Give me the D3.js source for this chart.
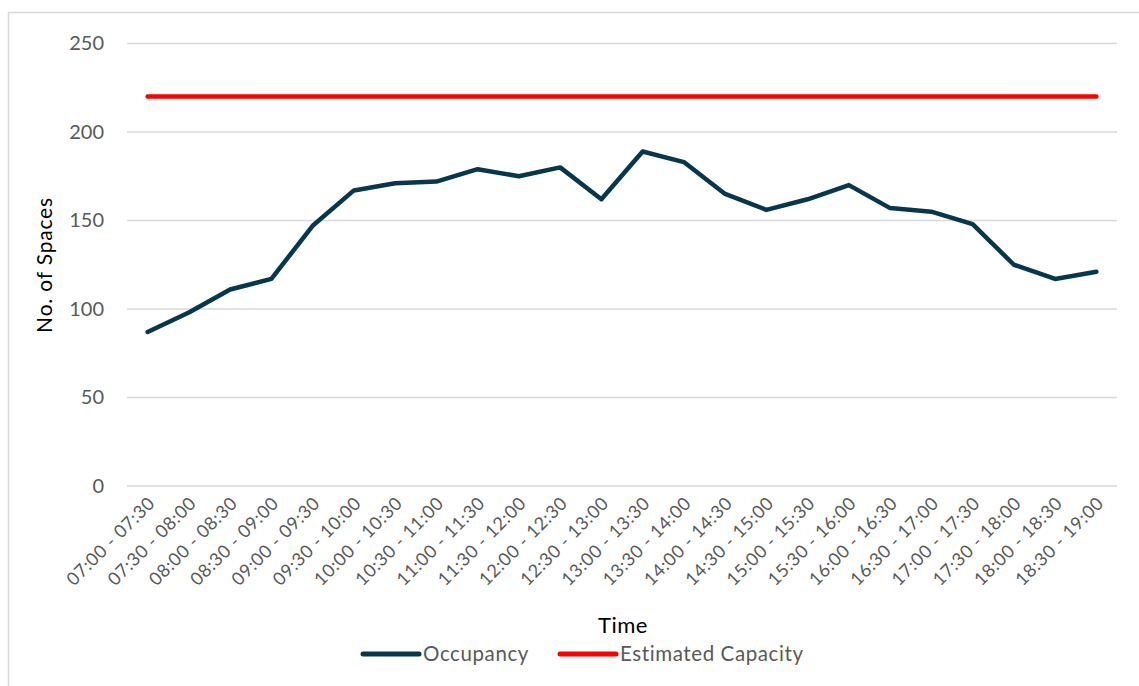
<!DOCTYPE html>
<html>
<head>
<meta charset="utf-8">
<script src="https://cdn.jsdelivr.net/npm/d3@7"></script>
<style>
  body { margin: 0; background: #fff; }
  svg text { font-family: Lato, "Open Sans", sans-serif; }
</style>
</head>
<body>
<svg id="chart"></svg>
<script>
// half hour slots
const slots = [
	"07:00 - 07:30", "07:30 - 08:00", "08:00 - 08:30", "08:30 - 09:00",
	"09:00 - 09:30", "09:30 - 10:00", "10:00 - 10:30", "10:30 - 11:00",
	"11:00 - 11:30", "11:30 - 12:00", "12:00 - 12:30", "12:30 - 13:00",
	"13:00 - 13:30", "13:30 - 14:00", "14:00 - 14:30", "14:30 - 15:00",
	"15:00 - 15:30", "15:30 - 16:00", "16:00 - 16:30", "16:30 - 17:00",
	"17:00 - 17:30", "17:30 - 18:00", "18:00 - 18:30", "18:30 - 19:00"
];
const occupancy = [87, 98, 111, 117, 147, 167, 171, 172, 179, 175, 180, 162,
	189, 183, 165, 156, 162, 170, 157, 155, 148, 125, 117, 121];
const capacity = slots.map(() => 220);
const yTicks = [0, 50, 100, 150, 200, 250];

const series = [
	{name: "Occupancy", values: occupancy, color: "#06374d"},
	{name: "Estimated Capacity", values: capacity, color: "#ff0000"}
];

var width = 1139;
var height = 686;
var margin = {left: 127, right: 22, top: 43.5, bottom: 200};

var svg = d3.select("#chart")
	.attr("width", width)
	.attr("height", height);

// chart area border (runs off the right and bottom edge)
svg.append("rect")
	.attr("x", 8.5).attr("y", 12.5)
	.attr("width", 1200).attr("height", 700)
	.attr("fill", "none")
	.attr("stroke", "#d9d9d9")
	.attr("stroke-width", 1.5);

var x = d3.scaleBand()
	.domain(slots)
	.range([margin.left, width - margin.right]);

var y = d3.scaleLinear()
	.domain([0, 250])
	.range([486, margin.top]);

// gridlines
svg.append("g")
	.selectAll("line")
	.data(yTicks)
	.enter()
	.append("line")
	.attr("x1", margin.left)
	.attr("x2", width - margin.right)
	.attr("y1", d => y(d))
	.attr("y2", d => y(d))
	.attr("stroke", "#d9d9d9")
	.attr("stroke-width", 1.5);

// y axis labels
var yAxis = d3.axisLeft(y).tickValues(yTicks).tickSize(0).tickPadding(0);
svg.append("g")
	.attr("transform", "translate(104,0)")
	.call(yAxis)
	.call(g => g.select(".domain").remove())
	.selectAll("text")
	.attr("fill", "#595959")
	.style("font-size", "20px")
	.style("font-family", "Lato, sans-serif");

// x axis labels, rotated
var xAxis = d3.axisBottom(x).tickSize(0).tickPadding(0);
svg.append("g")
	.attr("transform", "translate(0,500)")
	.call(xAxis)
	.call(g => g.select(".domain").remove())
	.selectAll("text")
	.attr("fill", "#595959")
	.style("font-size", "18px")
	.style("letter-spacing", "0.6px")
	.style("font-family", "Lato, sans-serif")
	.attr("text-anchor", "end")
	.attr("dy", "0.35em")
	.attr("transform", "translate(4,0) rotate(-45)");

var line = d3.line()
	.x((d, i) => x(slots[i]) + x.bandwidth() / 2)
	.y(d => y(d));

svg.append("g")
	.selectAll("path")
	.data(series.slice().reverse())
	.enter()
	.append("path")
	.attr("d", d => line(d.values))
	.attr("fill", "none")
	.attr("stroke", d => d.color)
	.attr("stroke-width", 4.5)
	.attr("stroke-linejoin", "round")
	.attr("stroke-linecap", "round");

// axis titles
svg.append("text")
	.attr("x", 623).attr("y", 633)
	.attr("text-anchor", "middle")
	.attr("fill", "#000")
	.style("font-size", "22px")
	.style("letter-spacing", "0.5px")
	.text("Time");

svg.append("text")
	.attr("transform", "translate(52,265) rotate(-90)")
	.attr("text-anchor", "middle")
	.attr("fill", "#000")
	.style("font-size", "21px")
	.style("letter-spacing", "0.8px")
	.text("No. of Spaces");

// legend
var legendX = [363, 560];
var legend = svg.append("g")
	.selectAll("g")
	.data(series)
	.enter()
	.append("g")
	.attr("transform", (d, i) => "translate(" + legendX[i] + ",654)");

legend.append("line")
	.attr("x1", 0).attr("x2", 56)
	.attr("stroke", d => d.color)
	.attr("stroke-width", 5)
	.attr("stroke-linecap", "round");

legend.append("text")
	.attr("x", 60)
	.attr("dy", "0.35em")
	.attr("fill", "#595959")
	.style("font-size", "20.5px")
	.style("letter-spacing", "0.6px")
	.text(d => d.name);
</script>
</body>
</html>
